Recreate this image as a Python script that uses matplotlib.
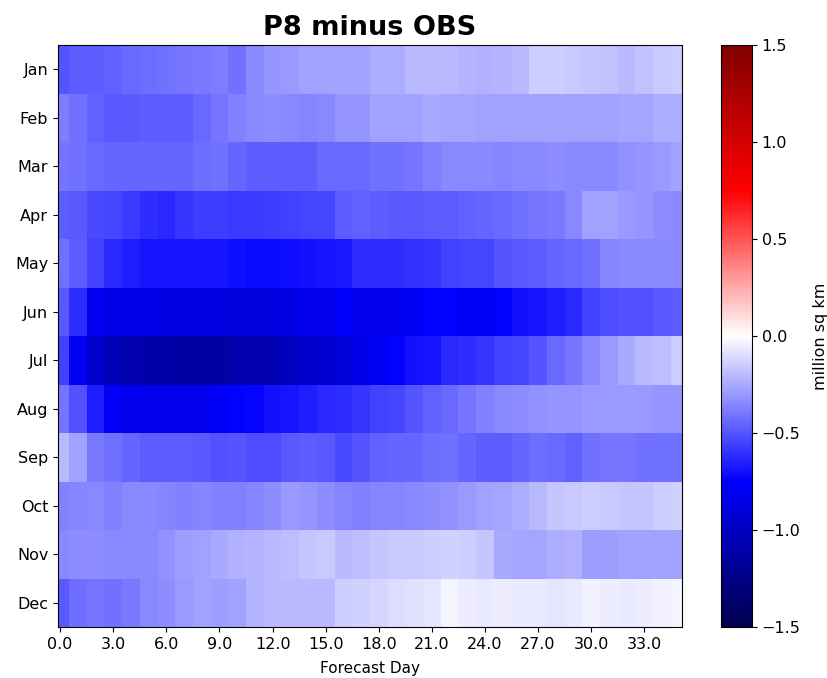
import numpy as np
import matplotlib
matplotlib.use("Agg")
import matplotlib.pyplot as plt
from matplotlib.ticker import FormatStrFormatter

months = ["Jan", "Feb", "Mar", "Apr", "May", "Jun",
          "Jul", "Aug", "Sep", "Oct", "Nov", "Dec"]
forecast_days = list(range(36))

jan = [-0.50, -0.47, -0.47, -0.46, -0.44, -0.43, -0.42, -0.40, -0.39, -0.38, -0.42, -0.34, -0.31, -0.30, -0.28, -0.28, -0.27, -0.27, -0.24, -0.24, -0.20, -0.20, -0.21, -0.22, -0.23, -0.22, -0.20, -0.15, -0.15, -0.16, -0.17, -0.18, -0.20, -0.18, -0.16, -0.15]
feb = [-0.38, -0.42, -0.46, -0.49, -0.49, -0.48, -0.47, -0.47, -0.44, -0.40, -0.37, -0.35, -0.33, -0.35, -0.36, -0.35, -0.31, -0.31, -0.28, -0.27, -0.27, -0.25, -0.26, -0.26, -0.28, -0.28, -0.28, -0.28, -0.27, -0.28, -0.28, -0.27, -0.26, -0.26, -0.24, -0.24]
mar = [-0.40, -0.42, -0.44, -0.45, -0.45, -0.45, -0.45, -0.45, -0.43, -0.42, -0.45, -0.47, -0.47, -0.47, -0.47, -0.44, -0.44, -0.44, -0.42, -0.42, -0.40, -0.37, -0.35, -0.35, -0.35, -0.36, -0.35, -0.35, -0.33, -0.34, -0.34, -0.34, -0.32, -0.31, -0.30, -0.28]
apr = [-0.47, -0.49, -0.53, -0.55, -0.58, -0.61, -0.63, -0.59, -0.57, -0.57, -0.58, -0.58, -0.57, -0.56, -0.54, -0.54, -0.47, -0.46, -0.47, -0.49, -0.49, -0.47, -0.48, -0.46, -0.45, -0.44, -0.42, -0.41, -0.39, -0.35, -0.28, -0.28, -0.30, -0.31, -0.33, -0.34]
may = [-0.42, -0.48, -0.56, -0.63, -0.66, -0.69, -0.69, -0.69, -0.69, -0.69, -0.71, -0.72, -0.72, -0.71, -0.70, -0.68, -0.67, -0.62, -0.61, -0.61, -0.60, -0.59, -0.56, -0.54, -0.54, -0.50, -0.49, -0.47, -0.45, -0.44, -0.42, -0.36, -0.35, -0.35, -0.35, -0.35]
jun = [-0.49, -0.61, -0.81, -0.85, -0.85, -0.85, -0.86, -0.86, -0.86, -0.88, -0.88, -0.88, -0.87, -0.87, -0.81, -0.81, -0.77, -0.81, -0.81, -0.81, -0.79, -0.75, -0.75, -0.78, -0.78, -0.75, -0.70, -0.69, -0.66, -0.63, -0.56, -0.52, -0.51, -0.51, -0.49, -0.48]
jul = [-0.56, -0.79, -0.95, -1.05, -1.10, -1.11, -1.12, -1.13, -1.13, -1.13, -1.09, -1.08, -1.07, -1.01, -0.96, -0.94, -0.91, -0.85, -0.78, -0.75, -0.70, -0.69, -0.63, -0.61, -0.59, -0.56, -0.54, -0.50, -0.44, -0.40, -0.35, -0.30, -0.25, -0.21, -0.19, -0.15]
aug = [-0.40, -0.51, -0.66, -0.78, -0.81, -0.81, -0.81, -0.81, -0.81, -0.78, -0.75, -0.73, -0.70, -0.68, -0.66, -0.63, -0.61, -0.59, -0.56, -0.54, -0.50, -0.46, -0.44, -0.41, -0.37, -0.35, -0.33, -0.32, -0.31, -0.31, -0.30, -0.30, -0.30, -0.30, -0.31, -0.31]
sep = [-0.21, -0.28, -0.39, -0.42, -0.45, -0.47, -0.47, -0.47, -0.49, -0.51, -0.50, -0.52, -0.52, -0.49, -0.47, -0.49, -0.53, -0.50, -0.46, -0.45, -0.45, -0.43, -0.42, -0.45, -0.47, -0.48, -0.45, -0.43, -0.44, -0.46, -0.42, -0.41, -0.40, -0.42, -0.42, -0.42]
oct_ = [-0.37, -0.36, -0.35, -0.37, -0.35, -0.34, -0.36, -0.37, -0.36, -0.37, -0.37, -0.36, -0.33, -0.30, -0.31, -0.33, -0.36, -0.37, -0.36, -0.36, -0.35, -0.33, -0.32, -0.30, -0.28, -0.26, -0.24, -0.21, -0.17, -0.16, -0.15, -0.16, -0.17, -0.17, -0.15, -0.14]
nov = [-0.35, -0.33, -0.33, -0.34, -0.35, -0.34, -0.32, -0.29, -0.27, -0.25, -0.23, -0.22, -0.21, -0.19, -0.17, -0.16, -0.20, -0.19, -0.17, -0.16, -0.16, -0.15, -0.14, -0.15, -0.17, -0.25, -0.26, -0.26, -0.24, -0.23, -0.29, -0.29, -0.28, -0.27, -0.27, -0.27]
dec = [-0.49, -0.43, -0.41, -0.42, -0.39, -0.34, -0.33, -0.30, -0.28, -0.29, -0.27, -0.22, -0.21, -0.21, -0.20, -0.21, -0.15, -0.13, -0.12, -0.10, -0.09, -0.08, -0.03, -0.05, -0.06, -0.05, -0.07, -0.07, -0.08, -0.07, -0.04, -0.05, -0.07, -0.05, -0.04, -0.03]

x_ticks = [0, 3, 6, 9, 12, 15, 18, 21, 24, 27, 30, 33]
cbar_ticks = [-1.5, -1.0, -0.5, 0.0, 0.5, 1.0, 1.5]

data = np.array([jan, feb, mar, apr, may, jun, jul, aug, sep, oct_, nov, dec])
days = np.array(forecast_days, dtype=float)

# cell edges (data sampled each day; axis spans -0.125 .. 35.125)
x_edges = np.concatenate([[days[0] - 0.125], (days[:-1] + days[1:]) / 2, [days[-1] + 0.125]])
y_edges = np.arange(len(months) + 1) - 0.5

fig = plt.figure(figsize=(8.27, 6.78), dpi=100)
ax = fig.add_axes([0.0701, 0.0752, 0.7545, 0.8584])
cax = fig.add_axes([0.8718, 0.0752, 0.0375, 0.8584])

mesh = ax.pcolormesh(x_edges, y_edges, data, cmap="seismic", vmin=-1.5, vmax=1.5)
ax.set_ylim(len(months) - 0.5, -0.5)
ax.set_xlim(x_edges[0], x_edges[-1])
ax.set_yticks(np.arange(len(months)))
ax.set_yticklabels(months)
ax.set_xticks(x_ticks)
ax.xaxis.set_major_formatter(FormatStrFormatter("%.1f"))
ax.tick_params(labelsize=11.5)
ax.set_xlabel("Forecast Day", fontsize=11, labelpad=7)
ax.set_title("P8 minus OBS", fontsize=19.5, fontweight="bold", pad=7)

cb = fig.colorbar(mesh, cax=cax, ticks=cbar_ticks)
cb.ax.tick_params(labelsize=11.5)
cb.set_label("million sq km", fontsize=11.5, labelpad=9)

fig.savefig("out.png", dpi=100)
